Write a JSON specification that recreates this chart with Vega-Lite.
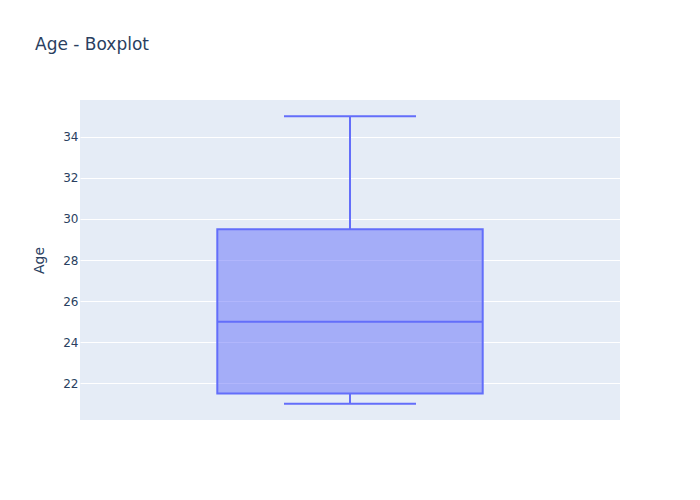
{
  "$schema": "https://vega.github.io/schema/vega-lite/v6.json",
  "autosize": "none",
  "width": 540,
  "height": 320,
  "padding": {"left": 80, "top": 100, "right": 80, "bottom": 80},
  "background": "white",
  "config": {
    "view": {"fill": "#E5ECF6", "stroke": null},
    "font": "DejaVu Sans"
  },
  "title": {
    "text": "Age - Boxplot",
    "anchor": "start",
    "frame": "group",
    "dx": -45,
    "offset": 33,
    "baseline": "alphabetic",
    "font": "DejaVu Sans",
    "fontSize": 17,
    "fontWeight": "normal",
    "color": "#2a3f5f"
  },
  "data": {
    "values": [
      {"variable": "Age", "min": 21, "q1": 21.5, "median": 25, "q3": 29.5, "max": 35}
    ]
  },
  "encoding": {
    "x": {
      "field": "variable",
      "type": "nominal",
      "axis": null,
      "scale": {"type": "band", "paddingInner": 0, "paddingOuter": 0}
    }
  },
  "layer": [
    {
      "mark": {"type": "rule", "color": "#636efa", "strokeWidth": 2},
      "encoding": {
        "y": {
          "field": "min",
          "type": "quantitative",
          "title": "Age",
          "scale": {"domain": [20.214, 35.786], "nice": false, "zero": false},
          "axis": {
            "values": [22, 24, 26, 28, 30, 32, 34],
            "ticks": false,
            "domain": false,
            "gridColor": "white",
            "gridWidth": 1,
            "gridOpacity": 1,
            "labelColor": "#2a3f5f",
            "labelFontSize": 12,
            "labelFont": "DejaVu Sans",
            "labelPadding": 2,
            "titleColor": "#2a3f5f",
            "titleFontSize": 14,
            "titleFont": "DejaVu Sans",
            "titleFontWeight": "normal",
            "titlePadding": 16
          }
        },
        "y2": {"field": "q1"}
      }
    },
    {
      "mark": {"type": "rule", "color": "#636efa", "strokeWidth": 2},
      "encoding": {
        "y": {"field": "q3", "type": "quantitative"},
        "y2": {"field": "max"}
      }
    },
    {
      "mark": {
        "type": "bar",
        "width": {"band": 0.4915},
        "fill": "#636efa",
        "fillOpacity": 0.5,
        "stroke": "#636efa",
        "strokeWidth": 2
      },
      "encoding": {
        "y": {"field": "q1", "type": "quantitative"},
        "y2": {"field": "q3"}
      }
    },
    {
      "mark": {"type": "tick", "color": "#636efa", "size": 265, "thickness": 2, "opacity": 1},
      "encoding": {
        "y": {"field": "median", "type": "quantitative"}
      }
    },
    {
      "mark": {"type": "tick", "color": "#636efa", "size": 132, "thickness": 2, "opacity": 1},
      "encoding": {
        "y": {"field": "min", "type": "quantitative"}
      }
    },
    {
      "mark": {"type": "tick", "color": "#636efa", "size": 132, "thickness": 2, "opacity": 1},
      "encoding": {
        "y": {"field": "max", "type": "quantitative"}
      }
    }
  ]
}
